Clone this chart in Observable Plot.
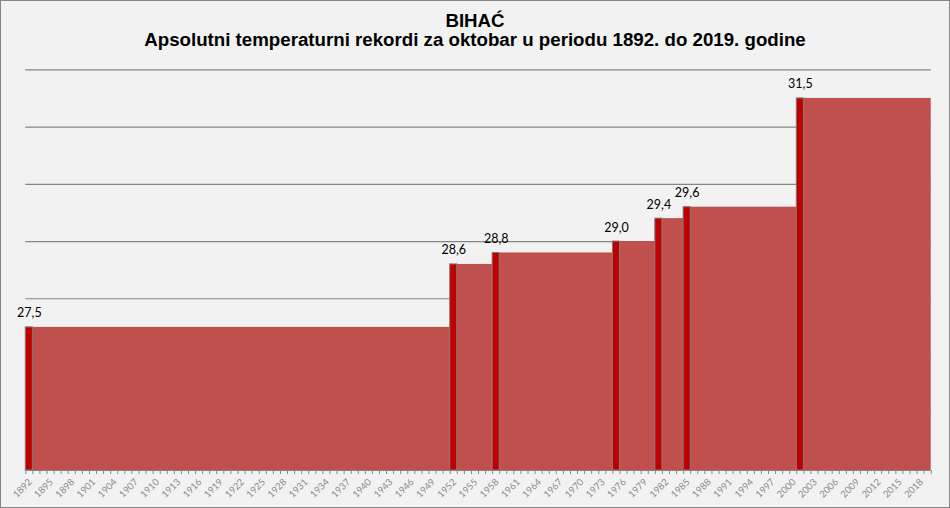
<!DOCTYPE html>
<html>
<head>
<meta charset="utf-8">
<script src="https://cdn.jsdelivr.net/npm/d3@7"></script>
<script src="https://cdn.jsdelivr.net/npm/@observablehq/plot@0.6"></script>
<style>
  html, body { margin: 0; padding: 0; background: #F2F2F2; }
  #chart {
    position: relative; width: 950px; height: 508px; box-sizing: border-box;
    border: 1px solid #868686; background: #F2F2F2; overflow: hidden;
  }
  .title {
    position: absolute; left: 0; width: 948px; text-align: center;
    font-family: "Liberation Sans", Arial, sans-serif; font-weight: bold;
    font-size: 18.7px; line-height: 19px; color: #000; white-space: nowrap;
  }
  #plot { position: absolute; left: 0; top: 60px; }
</style>
</head>
<body>
<div id="chart">
  <div class="title" style="top:9.7px">BIHAĆ<br>Apsolutni temperaturni rekordi za oktobar u periodu 1892. do 2019. godine</div>
  <div id="plot"></div>
</div>
<script>
// Record years and temperatures (°C) — new absolute October maximum
const recordYears = [1892, 1952, 1958, 1975, 1981, 1985, 2001];
const recordTemps = [27.5, 28.6, 28.8, 29.0, 29.4, 29.6, 31.5];
const firstYear = 1892;
const lastYear = 2019;
const labelYears = d3.range(1892, 2020, 3);
const gridTemps = [26, 27, 28, 29, 30, 31, 32];
const yMin = 25, yMax = 32;

const records = recordYears.map((year, i) => ({
  year, t: recordTemps[i],
  next: i + 1 < recordYears.length ? recordYears[i + 1] : lastYear + 1
}));
const boundaries = d3.range(firstYear, lastYear + 2);

const gray = "#868686";
const plot = Plot.plot({
  width: 948,
  height: 446,
  marginTop: 8.3,
  marginBottom: 37,
  marginLeft: 24.3,
  marginRight: 18.3,
  style: { background: "transparent", overflow: "visible" },
  x: { domain: [firstYear, lastYear + 1], axis: null },
  y: { domain: [yMin, yMax], axis: null },
  marks: [
    Plot.ruleY(gridTemps, { stroke: gray, strokeWidth: 1.2 }),
    Plot.rect(records, { x1: "year", x2: "next", y1: yMin, y2: "t", fill: "#C0504D" }),
    Plot.rect(records, { x1: "year", x2: d => d.year + 1, y1: yMin, y2: "t", fill: "#C00000", stroke: "#7F7F7F", strokeWidth: 1 }),
    Plot.ruleY([yMin], { stroke: gray, strokeWidth: 1.2 }),
    Plot.axisX({ ticks: boundaries, tickSize: 4, tickFormat: () => "", stroke: gray, label: null }),
    Plot.text(labelYears, {
      x: d => d + 0.5, frameAnchor: "bottom", text: d => String(d),
      rotate: -45, textAnchor: "end", lineAnchor: "middle", dy: 10, dx: 1,
      fill: "#8C8C8C", fontSize: 9.5, fontFamily: "Lato, 'Open Sans', sans-serif"
    }),
    Plot.text(records, {
      x: d => d.year + 0.5, y: "t", text: d => d.t.toFixed(1).replace(".", ","),
      dy: -10, lineAnchor: "bottom", fill: "#000", fontSize: 12.5,
      fontFamily: "Lato, 'Open Sans', sans-serif"
    })
  ]
});
document.getElementById("plot").appendChild(plot);
</script>
</body>
</html>
